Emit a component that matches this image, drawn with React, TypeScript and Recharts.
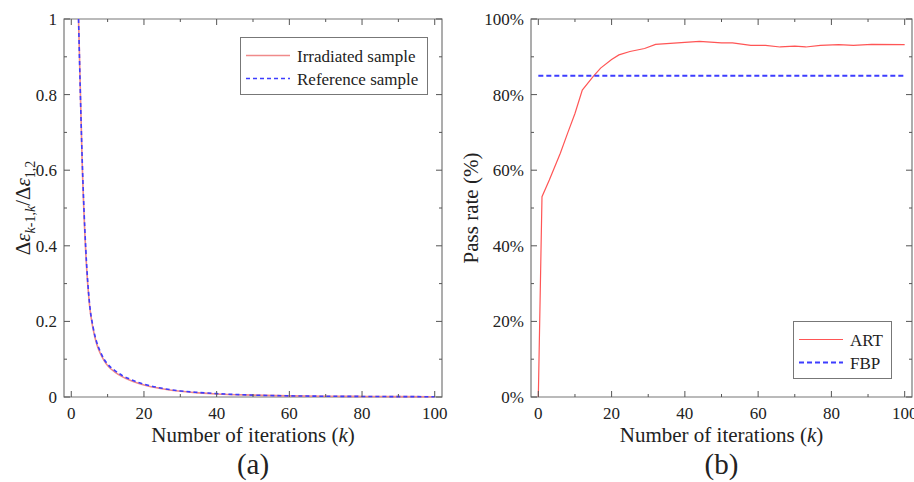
import { LineChart, Line, XAxis, YAxis, ReferenceArea, Legend, Label } from "recharts";

// (a) relative change between successive iterations
const K_DECAY = [2, 3, 4, 5, 6, 7, 8, 9, 10, 12, 14, 16, 18, 20, 25, 30, 35, 40, 50, 60, 70, 80, 90, 100];
const IRRADIATED = [1, 0.62, 0.38, 0.245, 0.18, 0.14, 0.115, 0.097, 0.083, 0.066, 0.054, 0.045, 0.038, 0.032, 0.022, 0.015, 0.011, 0.008, 0.005, 0.003, 0.002, 0.0015, 0.001, 0.0008];
const REFERENCE = [1, 0.63, 0.39, 0.25, 0.185, 0.145, 0.12, 0.1, 0.087, 0.07, 0.057, 0.048, 0.04, 0.034, 0.023, 0.016, 0.012, 0.009, 0.005, 0.003, 0.002, 0.0015, 0.001, 0.0008];
const DECAY_TICKS = [0, 0.1, 0.2, 0.3, 0.4, 0.5, 0.6, 0.7, 0.8, 0.9, 1];

// (b) pass rate
const K_PASS = [0, 1, 3, 6, 8, 10, 12, 15, 17, 20, 22, 25, 29, 32, 37, 40, 44, 50, 53, 58, 62, 66, 70, 73, 77, 82, 86, 91, 100];
const ART = [0, 53, 57.4, 64.5, 69.8, 75, 81.2, 84.8, 87, 89.3, 90.5, 91.4, 92.2, 93.3, 93.6, 93.8, 94.1, 93.7, 93.7, 93, 93, 92.6, 92.8, 92.6, 93, 93.2, 93, 93.3, 93.2];
const FBP_K = [0, 100];
const FBP = [85, 85];
const RATE_TICKS = [0, 10, 20, 30, 40, 50, 60, 70, 80, 90, 100];

const X_TICKS = [0, 10, 20, 30, 40, 50, 60, 70, 80, 90, 100];
const X_DOMAIN: [number, number] = [-2, 102];

const decayData = K_DECAY.map((k, i) => ({ k, irradiated: IRRADIATED[i], reference: REFERENCE[i] }));
const artData = K_PASS.map((k, i) => ({ k, rate: ART[i] }));
const fbpData = FBP_K.map((k, i) => ({ k, rate: FBP[i] }));

const FONT = "Liberation Serif, DejaVu Serif, serif";
const TEXT = "#222";
const FRAME = "#777";
const TICK = "#555";
const PINK = "#f08a8a";
const RED = "#ff5555";
const BLUE = "#3d3dff";

const TOP = 19;
const BOTTOM = 397;
const serif = { fontFamily: FONT };

function makeXTick(major: (v: number) => boolean) {
  return (props: any) => {
    const { payload } = props;
    const x = payload.coordinate;
    const big = major(payload.value);
    const len = big ? 6 : 3;
    return (
      <g>
        <line x1={x} x2={x} y1={BOTTOM} y2={BOTTOM - len} stroke={TICK} />
        <line x1={x} x2={x} y1={TOP} y2={TOP + len} stroke={TICK} />
        {big && (
          <text x={x} y={BOTTOM + 22} textAnchor="middle" fontSize={17} fill={TEXT} style={serif}>
            {payload.value}
          </text>
        )}
      </g>
    );
  };
}

function makeYTick(left: number, right: number, major: (v: number) => boolean, fmt: (v: number) => string) {
  return (props: any) => {
    const { payload } = props;
    const y = payload.coordinate;
    const big = major(payload.value);
    const len = big ? 6 : 3;
    return (
      <g>
        <line x1={left} x2={left + len} y1={y} y2={y} stroke={TICK} />
        <line x1={right} x2={right - len} y1={y} y2={y} stroke={TICK} />
        {big && (
          <text x={left - 7} y={y} dy="0.35em" textAnchor="end" fontSize={17} fill={TEXT} style={serif}>
            {fmt(payload.value)}
          </text>
        )}
      </g>
    );
  };
}

function XTitle({ cx }: { cx: number }) {
  return (
    <text x={cx} y={442} textAnchor="middle" fontSize={21} fill={TEXT} style={serif}>
      Number of iterations (<tspan fontStyle="italic">k</tspan>)
    </text>
  );
}

function PanelTag({ cx, tag }: { cx: number; tag: string }) {
  return (
    <text x={cx} y={474} textAnchor="middle" fontSize={29} fill={TEXT} style={serif}>
      ({tag})
    </text>
  );
}

function DecayYTitle() {
  const cx = 30;
  const cy = 208;
  return (
    <text x={cx} y={cy} transform={`rotate(-90, ${cx}, ${cy})`} textAnchor="middle" fontSize={21} fill={TEXT} style={serif}>
      Δ<tspan fontStyle="italic">ε</tspan>
      <tspan dy={5} fontSize={14}>
        <tspan fontStyle="italic">k</tspan>-1,<tspan fontStyle="italic">k</tspan>
      </tspan>
      <tspan dy={-5}>/Δ</tspan>
      <tspan fontStyle="italic">ε</tspan>
      <tspan dy={5} fontSize={14}>1,2</tspan>
    </text>
  );
}

function RateYTitle() {
  const cx = 21;
  const cy = 208;
  return (
    <text x={cx} y={cy} transform={`rotate(-90, ${cx}, ${cy})`} textAnchor="middle" fontSize={21} fill={TEXT} style={serif}>
      Pass rate (%)
    </text>
  );
}

function LegendBox({ width, rows }: { width: number; rows: { name: string; color: string; dash?: string; w: number }[] }) {
  return (
    <svg width={width} height={58} style={{ display: "block" }}>
      <rect x={0.5} y={0.5} width={width - 1} height={57} fill="#fff" stroke={FRAME} />
      {rows.map((r, i) => {
        const y = 18.5 + i * 23;
        return (
          <g key={r.name}>
            <line x1={6} x2={50} y1={y} y2={y} stroke={r.color} strokeWidth={r.w} strokeDasharray={r.dash} />
            <text x={57} y={y + 6.5} fontSize={17} fill={TEXT} style={serif}>
              {r.name}
            </text>
          </g>
        );
      })}
    </svg>
  );
}

function DecayChart() {
  const L = 64;
  const R = 442;
  return (
    <LineChart width={457} height={482} margin={{ top: TOP, right: 457 - R, bottom: 0, left: 0 }}>
      <XAxis
        dataKey="k"
        type="number"
        domain={X_DOMAIN}
        ticks={X_TICKS}
        interval={0}
        height={482 - BOTTOM}
        axisLine={false}
        tickLine={false}
        tick={makeXTick((v) => v % 20 === 0)}
      >
        <Label content={() => <XTitle cx={(L + R) / 2} />} />
      </XAxis>
      <YAxis
        type="number"
        domain={[0, 1]}
        ticks={DECAY_TICKS}
        interval={0}
        width={L}
        axisLine={false}
        tickLine={false}
        tick={makeYTick(L, R, (v) => Math.round(v * 10) % 2 === 0, (v) => String(v))}
      >
        <Label content={() => <DecayYTitle />} />
      </YAxis>
      <ReferenceArea x1={X_DOMAIN[0]} x2={X_DOMAIN[1]} y1={0} y2={1} fill="none" stroke={FRAME} strokeWidth={1.2} />
      <Line type="monotone" data={decayData} dataKey="irradiated" name="Irradiated sample" stroke={PINK} strokeWidth={1.6} dot={false} isAnimationActive={false} />
      <Line type="monotone" data={decayData} dataKey="reference" name="Reference sample" stroke={BLUE} strokeWidth={1.6} strokeDasharray="4 3" dot={false} isAnimationActive={false} />
      <Legend
        layout="vertical"
        align="center"
        verticalAlign="middle"
        wrapperStyle={{ left: 240, top: 37, width: 188, height: 58 }}
        content={() => (
          <LegendBox
            width={188}
            rows={[
              { name: "Irradiated sample", color: PINK, w: 1.6 },
              { name: "Reference sample", color: BLUE, dash: "4 3", w: 1.6 },
            ]}
          />
        )}
      />
      <PanelTag cx={(L + R) / 2} tag="a" />
    </LineChart>
  );
}

function RateChart() {
  const L = 74;
  const R = 455;
  return (
    <LineChart width={457} height={482} margin={{ top: TOP, right: 457 - R, bottom: 0, left: 0 }}>
      <XAxis
        dataKey="k"
        type="number"
        domain={X_DOMAIN}
        ticks={X_TICKS}
        interval={0}
        height={482 - BOTTOM}
        axisLine={false}
        tickLine={false}
        tick={makeXTick((v) => v % 20 === 0)}
      >
        <Label content={() => <XTitle cx={(L + R) / 2} />} />
      </XAxis>
      <YAxis
        type="number"
        domain={[0, 100]}
        ticks={RATE_TICKS}
        interval={0}
        width={L}
        axisLine={false}
        tickLine={false}
        tick={makeYTick(L, R, (v) => v % 20 === 0, (v) => `${v}%`)}
      >
        <Label content={() => <RateYTitle />} />
      </YAxis>
      <ReferenceArea x1={X_DOMAIN[0]} x2={X_DOMAIN[1]} y1={0} y2={100} fill="none" stroke={FRAME} strokeWidth={1.2} />
      <Line type="linear" data={artData} dataKey="rate" name="ART" stroke={RED} strokeWidth={1.2} dot={false} isAnimationActive={false} />
      <Line type="linear" data={fbpData} dataKey="rate" name="FBP" stroke={BLUE} strokeWidth={2} strokeDasharray="5 3" dot={false} isAnimationActive={false} />
      <Legend
        layout="vertical"
        align="center"
        verticalAlign="middle"
        wrapperStyle={{ left: 336, top: 321, width: 99, height: 58 }}
        content={() => (
          <LegendBox
            width={99}
            rows={[
              { name: "ART", color: RED, w: 1.2 },
              { name: "FBP", color: BLUE, dash: "5 3", w: 2 },
            ]}
          />
        )}
      />
      <PanelTag cx={(L + R) / 2} tag="b" />
    </LineChart>
  );
}

export default function App() {
  return (
    <div style={{ position: "absolute", left: 0, top: 0, width: 914, height: 482, background: "#fff", overflow: "hidden" }}>
      <div style={{ position: "absolute", left: 0, top: 0 }}>
        <DecayChart />
      </div>
      <div style={{ position: "absolute", left: 457, top: 0 }}>
        <RateChart />
      </div>
    </div>
  );
}
